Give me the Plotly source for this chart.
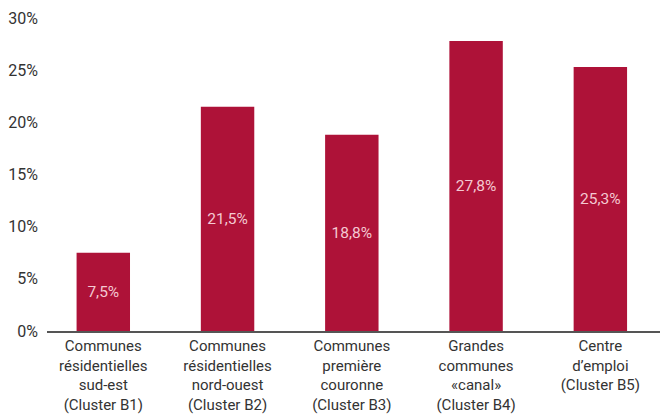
import plotly.graph_objects as go

categories = [
    "Communes<br>résidentielles<br>sud-est<br>(Cluster B1)",
    "Communes<br>résidentielles<br>nord-ouest<br>(Cluster B2)",
    "Communes<br>première<br>couronne<br>(Cluster B3)",
    "Grandes<br>communes<br>«canal»<br>(Cluster B4)",
    "Centre<br>d’emploi<br>(Cluster B5)",
]
values = [7.5, 21.5, 18.8, 27.8, 25.3]
value_labels = ["7,5%", "21,5%", "18,8%", "27,8%", "25,3%"]
y_ticks = [0, 5, 10, 15, 20, 25, 30]
y_tick_labels = ["0%", "5%", "10%", "15%", "20%", "25%", "30%"]

fig = go.Figure(go.Bar(
    x=list(range(len(categories))),
    y=values,
    text=value_labels,
    textposition="inside",
    insidetextanchor="middle",
    textfont=dict(color="#F4C9D2", size=15.5, family="Roboto"),
    marker=dict(color="#AE1238", line=dict(width=0)),
    width=0.43,
    hoverinfo="skip",
))

fig.update_layout(
    width=660, height=416,
    margin=dict(l=47, r=0, t=18, b=85),
    paper_bgcolor="white", plot_bgcolor="white",
    showlegend=False,
    font=dict(family="Roboto", color="#333333"),
)
fig.update_xaxes(
    range=[-0.453, 4.48],
    tickmode="array",
    tickvals=list(range(len(categories))),
    ticktext=categories,
    tickfont=dict(size=15, color="#333333"),
    showgrid=False, zeroline=False,
    showline=True, linecolor="#555555", linewidth=2,
    ticks="", tickangle=0,
)
fig.update_yaxes(
    range=[0, 30],
    tickmode="array",
    tickvals=y_ticks,
    ticktext=y_tick_labels,
    tickfont=dict(size=16, color="#333333"),
    showgrid=False, zeroline=False, showline=False,
    ticks="", ticklabelstandoff=8,
)

fig.write_html("out.html")
